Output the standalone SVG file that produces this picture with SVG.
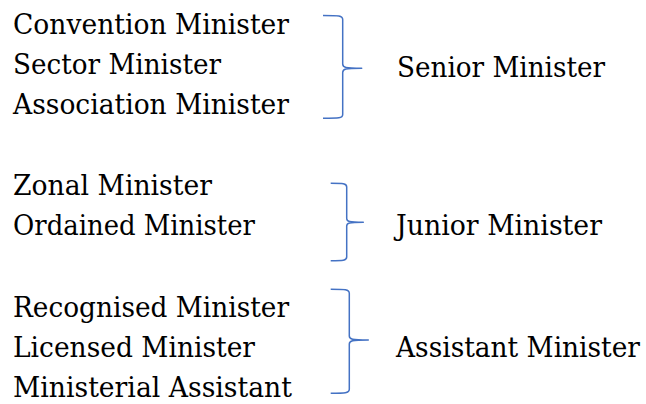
<svg xmlns="http://www.w3.org/2000/svg" width="646" height="404" viewBox="0 0 646 404">
<style>
.br{fill:none;stroke:#4472C4;stroke-width:1.5;stroke-linejoin:round;stroke-linecap:butt}
</style>
<rect width="646" height="404" fill="#fff"/>
<g font-family="DejaVu Serif, Liberation Serif, serif" font-size="27.5" fill="#000">
<g id="senior-members">
<text x="13" y="34" textLength="276" lengthAdjust="spacingAndGlyphs">Convention Minister</text>
<text x="13" y="74" textLength="208" lengthAdjust="spacingAndGlyphs">Sector Minister</text>
<text x="13" y="113.5" textLength="276" lengthAdjust="spacingAndGlyphs">Association Minister</text>
</g>
<g id="junior-members">
<text x="13" y="195" textLength="199" lengthAdjust="spacingAndGlyphs">Zonal Minister</text>
<text x="13" y="235" textLength="242" lengthAdjust="spacingAndGlyphs">Ordained Minister</text>
</g>
<g id="assistant-members">
<text x="13" y="316.7" textLength="276" lengthAdjust="spacingAndGlyphs">Recognised Minister</text>
<text x="13" y="356.7" textLength="242" lengthAdjust="spacingAndGlyphs">Licensed Minister</text>
<text x="13" y="396.7" textLength="279" lengthAdjust="spacingAndGlyphs">Ministerial Assistant</text>
</g>
<g id="senior">
<text x="397" y="76.5" textLength="208" lengthAdjust="spacingAndGlyphs">Senior Minister</text>
</g>
<g id="junior">
<text x="396" y="235" textLength="206" lengthAdjust="spacingAndGlyphs">Junior Minister</text>
</g>
<g id="assistant">
<text x="396" y="356.7" textLength="244" lengthAdjust="spacingAndGlyphs">Assistant Minister</text>
</g>
</g>
<g id="connectors">
<path class="br" d="M323,15.5 C339,15.5 342.7,15.5 342.7,19.5 L342.7,64 C342.7,67.5 345,68.3 361.7,68.3 C345,68.3 342.7,69 342.7,72.5 L342.7,114.5 C342.7,118.3 339,118.3 323,118.3"/>
<path class="br" d="M330.7,183.3 C343,183.3 346.7,183.3 346.7,187 L346.7,218.5 C346.7,221.6 349,222.3 363.3,222.3 C349,222.3 346.7,223 346.7,226 L346.7,257 C346.7,260.7 343,260.7 330.7,260.7"/>
<path class="br" d="M330.7,289.3 C345,289.3 349.3,289.3 349.3,293.3 L349.3,336 C349.3,339.3 352,340 368.3,340 C352,340 349.3,340.7 349.3,344 L349.3,389.3 C349.3,393.3 345,393.3 330.7,393.3"/>
</g>
</svg>
